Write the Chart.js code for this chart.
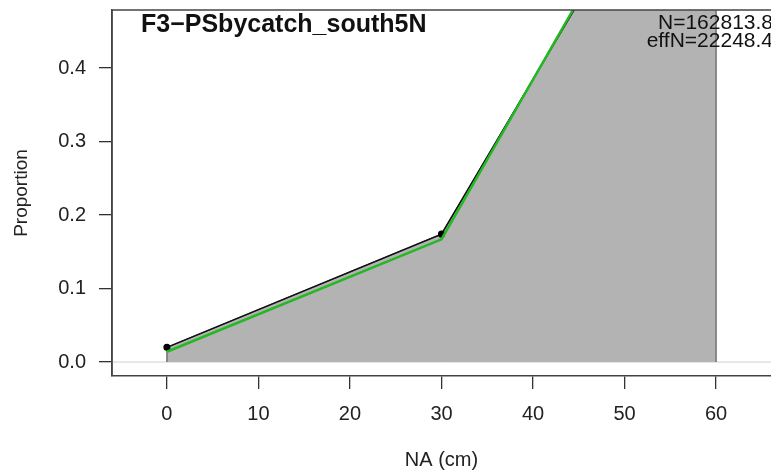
<!DOCTYPE html>
<html>
<head>
<meta charset="utf-8">
<script src="https://cdn.jsdelivr.net/npm/chart.js@4"></script>
<style>
html, body { margin: 0; padding: 0; background: #fff; overflow: hidden; }
</style>
</head>
<body>
<canvas id="mycanvas" width="771" height="475"></canvas>
<script>
// length bins and proportions
var lengthBins = [0, 30, 60];
var obsProp = [0.020, 0.174, 0.806];
var expProp = [0.014, 0.167, 0.819];
var xTicks = [0, 10, 20, 30, 40, 50, 60];
var yTicks = [0, 0.1, 0.2, 0.3, 0.4];
var fleetName = 'F3\u2212PSbycatch_south5N';
var sampleN = 'N=162813.8';
var effN = 'effN=22248.4';

var font = '"Liberation Sans", Arial, sans-serif';
var xMin = -6, xMax = 66;

function pts(ys) {
	var out = [];
	for (var i in lengthBins) out.push({x: lengthBins[i], y: ys[i]});
	return out;
}

var polygon = [{x: lengthBins[0], y: 0}].concat(pts(obsProp));
polygon.push({x: lengthBins[lengthBins.length - 1], y: 0});

var extras = {
	id: 'extras',
	afterDraw: function(chart) {
		var ctx = chart.ctx, a = chart.chartArea;
		ctx.save();
		ctx.strokeStyle = '#444';
		ctx.lineWidth = 1.5;
		ctx.beginPath();
		ctx.moveTo(a.left, a.bottom);
		ctx.lineTo(a.left, a.top);
		ctx.lineTo(a.right, a.top);
		ctx.stroke();

		ctx.fillStyle = '#111';
		ctx.textBaseline = 'middle';
		ctx.textAlign = 'left';
		ctx.font = 'bold 25px ' + font;
		ctx.fillText(fleetName, 141, 25);
		ctx.textAlign = 'right';
		ctx.font = '21px ' + font;
		ctx.fillText(sampleN, 773, 23);
		ctx.fillText(effN, 773, 41);
		ctx.restore();
	}
};

var ctx = document.getElementById('mycanvas');

var chart = new Chart(ctx, {
	type: 'scatter',
	data: {
		datasets: [
			{
				label: 'expected',
				data: pts(expProp),
				showLine: true,
				borderColor: '#22b822',
				borderWidth: 2.5,
				pointRadius: 0
			},
			{
				label: 'observed',
				data: pts(obsProp),
				showLine: true,
				borderColor: '#111',
				borderWidth: 1.5,
				pointRadius: 2.8,
				pointBackgroundColor: '#000',
				pointBorderColor: '#000'
			},
			{
				label: 'obs polygon',
				data: polygon,
				showLine: true,
				fill: 'origin',
				backgroundColor: '#b3b3b3',
				borderColor: '#5a5a5a',
				borderWidth: 1.2,
				pointRadius: 0
			},
			{
				label: 'zero line',
				data: [{x: xMin, y: 0}, {x: xMax, y: 0}],
				showLine: true,
				borderColor: '#cfcfcf',
				borderWidth: 1,
				pointRadius: 0
			}
		]
	},
	options: {
		responsive: false,
		animation: false,
		devicePixelRatio: 1,
		layout: {autoPadding: false, padding: {top: 10, left: 0, right: 0, bottom: 0}},
		plugins: {legend: {display: false}, tooltip: {enabled: false}},
		scales: {
			x: {
				type: 'linear',
				min: xMin,
				max: xMax,
				afterBuildTicks: function(axis) {
					axis.ticks = xTicks.map(function(v) { return {value: v}; });
				},
				afterFit: function(axis) {
					axis.height = 99;
					axis.paddingLeft = 0;
					axis.paddingRight = 0;
				},
				grid: {drawOnChartArea: false, tickLength: 13, color: '#333', lineWidth: 1.3},
				border: {color: '#444', width: 1.5},
				ticks: {
					autoSkip: false, maxRotation: 0, padding: 13, color: '#222',
					font: {size: 20, family: font},
					callback: function(v) { return v; }
				},
				title: {
					display: true, text: 'NA (cm)', color: '#222',
					font: {size: 20, family: font},
					padding: {top: 0, bottom: 3}
				}
			},
			y: {
				min: -0.019,
				max: 0.479,
				afterBuildTicks: function(axis) {
					axis.ticks = yTicks.map(function(v) { return {value: v}; });
				},
				afterFit: function(axis) {
					axis.width = 112;
					axis.paddingTop = 0;
					axis.paddingBottom = 0;
				},
				grid: {drawOnChartArea: false, tickLength: 13, color: '#333', lineWidth: 1.3},
				border: {color: '#444', width: 1.5},
				ticks: {
					autoSkip: false, padding: 13, color: '#222',
					font: {size: 20, family: font},
					callback: function(v) { return v.toFixed(1); }
				},
				title: {
					display: true, text: 'Proportion', color: '#222',
					font: {size: 19, family: font},
					padding: {top: 10, bottom: 0}
				}
			}
		}
	},
	plugins: [extras]
});
</script>
</body>
</html>
